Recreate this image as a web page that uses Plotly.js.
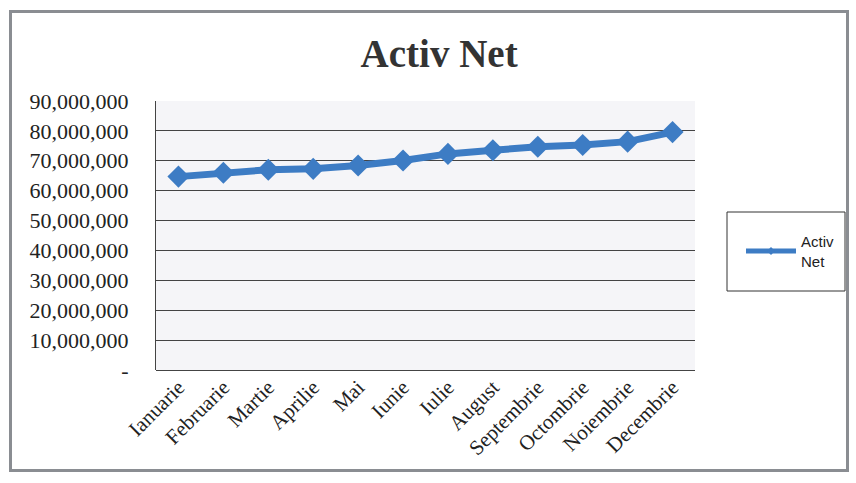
<!DOCTYPE html>
<html>
<head>
<meta charset="utf-8">
<script src="https://cdn.plot.ly/plotly-3.0.1.min.js"></script>
<style>
html,body{margin:0;padding:0;background:#fff;}
#chart{width:856px;height:483px;position:relative;}
#frame{position:absolute;left:9px;top:10px;width:840px;height:462px;border:3px solid #8a8d92;pointer-events:none;box-sizing:border-box;}
</style>
</head>
<body>
<div id="chart"></div>
<div id="frame"></div>
<script>
const months = ['Ianuarie','Februarie','Martie','Aprilie','Mai','Iunie','Iulie','August','Septembrie','Octombrie','Noiembrie','Decembrie'];
const activNet = [64700000,66000000,67000000,67300000,68400000,70100000,72300000,73500000,74700000,75300000,76400000,79600000];
const yTicks = [0,10000000,20000000,30000000,40000000,50000000,60000000,70000000,80000000,90000000];
const yTickText = ['-','10,000,000','20,000,000','30,000,000','40,000,000','50,000,000','60,000,000','70,000,000','80,000,000','90,000,000'];
const seriesName = 'Activ Net';
const blue = '#3d7cc4';

const trace = {
  x: months, y: activNet, name: seriesName, type: 'scatter', mode: 'lines+markers',
  line: {color: blue, width: 7},
  marker: {symbol: 'diamond', size: 17, color: blue},
  showlegend: false
};
const legendTrace = {
  x: [null], y: [null], name: 'Activ<br>Net', type: 'scatter', mode: 'lines+markers',
  line: {color: blue, width: 5}, marker: {symbol: 'diamond', size: 6, color: blue}, showlegend: true
};
const L = 156, R = 695, T = 101, B = 370;
const px = v => (v - L) / (R - L);
const py = v => (B - v) / (B - T);
const layout = {
  width: 856, height: 483,
  margin: {l: L, r: 856 - R, t: T, b: 483 - B},
  paper_bgcolor: '#ffffff', plot_bgcolor: '#f5f5f8',
  title: {text: '<b>Activ Net</b>', font: {family: 'Liberation Serif', size: 39, color: '#333'}, x: 0.513, xanchor: 'center', y: 0.89, yanchor: 'middle'},
  xaxis: {type: 'category', range: [-0.5, 11.5], tickangle: -45, tickfont: {family: 'Liberation Serif', size: 21, color: '#222'},
          showgrid: false, showline: false, ticks: '', zeroline: false},
  yaxis: {range: [0, 90000000], tickvals: yTicks, ticktext: yTickText, tickfont: {family: 'Liberation Serif', size: 22, color: '#222'},
          showgrid: true, gridcolor: '#444', gridwidth: 1, showline: true, linecolor: '#444', linewidth: 1,
          zeroline: true, zerolinecolor: '#444', zerolinewidth: 1, ticks: 'outside', ticklen: 22, tickcolor: 'rgba(0,0,0,0)'},
  showlegend: true,
  legend: {x: px(741), xanchor: 'left', y: py(251), yanchor: 'middle', borderwidth: 0, itemwidth: 50,
           font: {family: 'Liberation Sans', size: 15, color: '#222'}, bgcolor: 'rgba(0,0,0,0)'},
  shapes: [{type: 'rect', xref: 'paper', yref: 'paper', x0: px(727), x1: px(845), y0: py(291), y1: py(212),
            line: {color: '#333', width: 1}, fillcolor: 'rgba(0,0,0,0)', layer: 'below'}]
};
Plotly.newPlot('chart', [trace, legendTrace], layout, {displayModeBar: false, staticPlot: true});
</script>
</body>
</html>
